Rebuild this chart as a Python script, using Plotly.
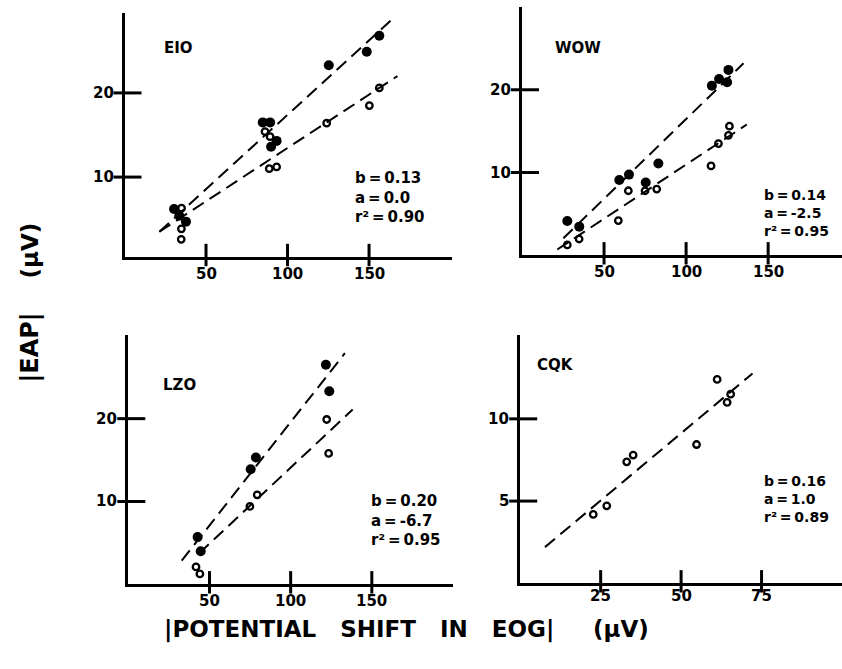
import plotly.graph_objects as go

W, H = 842, 669

# ---------------- data ----------------
eio_filled_x = [30.4, 33.6, 37.7, 84.8, 89.3, 93.3, 89.9, 125.3, 148.6, 156.3]
eio_filled_y = [6.2, 5.4, 4.7, 16.5, 16.5, 14.3, 13.6, 23.3, 24.9, 26.8]
eio_open_x = [35.0, 34.9, 34.8, 86.2, 89.3, 88.8, 93.3, 124.0, 150.2, 156.3]
eio_open_y = [6.3, 3.85, 2.6, 15.4, 14.8, 11.0, 11.2, 16.4, 18.5, 20.6]
eio_line_filled_x = [21.4, 165.0]
eio_line_filled_y = [3.5, 28.9]
eio_line_open_x = [21.4, 167.4]
eio_line_open_y = [3.5, 22.0]

wow_filled_x = [27.6, 34.9, 59.3, 65.2, 75.4, 83.1, 115.7, 120.1, 125.0, 125.8]
wow_filled_y = [4.15, 3.46, 9.1, 9.75, 8.8, 11.1, 20.5, 21.3, 20.9, 22.4]
wow_open_x = [27.6, 34.8, 58.7, 64.8, 75.0, 82.1, 115.2, 119.7, 125.8, 126.4]
wow_open_y = [1.25, 1.97, 4.2, 7.8, 7.8, 8.0, 10.8, 13.5, 14.5, 15.6]
wow_line_filled_x = [25.2, 135.0]
wow_line_filled_y = [2.05, 23.2]
wow_line_open_x = [21.5, 137.0]
wow_line_open_y = [0.7, 15.8]

lzo_filled_x = [121.7, 123.8, 78.6, 75.4, 42.7, 44.6]
lzo_filled_y = [26.5, 23.3, 15.3, 13.9, 5.7, 4.0]
lzo_open_x = [122.2, 123.4, 79.4, 74.9, 41.7, 44.1]
lzo_open_y = [19.9, 15.8, 10.8, 9.4, 2.1, 1.25]
lzo_line_filled_x = [32.9, 133.4]
lzo_line_filled_y = [2.85, 27.9]
lzo_line_open_x = [43.7, 138.2]
lzo_line_open_y = [3.75, 21.1]

cqk_open_x = [22.7, 26.9, 33.1, 35.1, 54.8, 61.2, 65.4, 64.3]
cqk_open_y = [4.19, 4.71, 7.39, 7.8, 8.44, 12.4, 11.5, 11.0]
cqk_line_x = [7.7, 72.2]
cqk_line_y = [2.2, 12.76]

panel_names = ["EIO", "WOW", "LZO", "CQK"]
panel_stats = [
    ["b\u2009=\u20090.13", "a\u2009=\u20090.0", "r²\u2009=\u20090.90"],
    ["b\u2009=\u20090.14", "a\u2009=\u2009-2.5", "r²\u2009=\u20090.95"],
    ["b\u2009=\u20090.20", "a\u2009=\u2009-6.7", "r²\u2009=\u20090.95"],
    ["b\u2009=\u20090.16", "a\u2009=\u20091.0", "r²\u2009=\u20090.89"],
]
x_ticks = [[50, 100, 150], [50, 100, 150], [50, 100, 150], [25, 50, 75]]
y_ticks = [[10, 20], [10, 20], [10, 20], [5, 10]]
x_title_main = "|POTENTIAL\u00a0\u00a0\u00a0SHIFT\u00a0\u00a0\u00a0IN\u00a0\u00a0\u00a0EOG|"
x_title_unit = "(μV)"
y_title_main = "|EAP|"
y_title_unit = "(μV)"

# ---------------- layout geometry ----------------
panels = [
    dict(px=(124.5, 451.7), py=(13, 257), xr=[0, 200.7], yr=[0.5, 29.5],
         name_pos=(23, 25.4), stat_pos=(140, 7.6), stat_size=15, xlab_off=17),
    dict(px=(522, 842), py=(7, 255.3), xr=[0, 195], yr=[0, 30],
         name_pos=(19, 25.1), stat_pos=(146.3, 5.1), stat_size=14, xlab_off=17),
    dict(px=(128.3, 453), py=(335, 584.3), xr=[0, 200], yr=[0, 30.1],
         name_pos=(20, 24.1), stat_pos=(148.4, 7.65), stat_size=15, xlab_off=17),
    dict(px=(520.2, 842), py=(335, 583.3), xr=[0, 100], yr=[0, 15.1],
         name_pos=(4.6, 13.3), stat_pos=(75, 5.1), stat_size=14, xlab_off=13),
]

FONT = "'DejaVu Sans', sans-serif"


def bfont(size):
    return dict(family=FONT, size=size, color="black", weight="bold")


fig = go.Figure()

filled_sets = [(eio_filled_x, eio_filled_y), (wow_filled_x, wow_filled_y),
               (lzo_filled_x, lzo_filled_y), None]
open_sets = [(eio_open_x, eio_open_y), (wow_open_x, wow_open_y),
             (lzo_open_x, lzo_open_y), (cqk_open_x, cqk_open_y)]
line_sets = [
    [(eio_line_filled_x, eio_line_filled_y), (eio_line_open_x, eio_line_open_y)],
    [(wow_line_filled_x, wow_line_filled_y), (wow_line_open_x, wow_line_open_y)],
    [(lzo_line_filled_x, lzo_line_filled_y), (lzo_line_open_x, lzo_line_open_y)],
    [(cqk_line_x, cqk_line_y)],
]


def ax_name(kind, n):
    return kind if n == 1 else f"{kind}{n}"


annotations = []
layout_axes = {}
for i, p in enumerate(panels):
    n = i + 1
    xa, ya = ax_name("x", n), ax_name("y", n)
    wpx = p["px"][1] - p["px"][0]
    hpx = p["py"][1] - p["py"][0]
    ux = (p["xr"][1] - p["xr"][0]) / wpx   # data units per pixel
    uy = (p["yr"][1] - p["yr"][0]) / hpx

    for lx, ly in line_sets[i]:
        fig.add_trace(go.Scatter(x=lx, y=ly, mode="lines", xaxis=xa, yaxis=ya,
                                 line=dict(color="black", width=2, dash="13px,7px"),
                                 showlegend=False, hoverinfo="skip"))
    if filled_sets[i] is not None:
        fx, fy = filled_sets[i]
        fig.add_trace(go.Scatter(x=fx, y=fy, mode="markers", xaxis=xa, yaxis=ya,
                                 marker=dict(symbol="circle", size=10, color="black"),
                                 showlegend=False))
    ox, oy = open_sets[i]
    fig.add_trace(go.Scatter(x=ox, y=oy, mode="markers", xaxis=xa, yaxis=ya,
                             marker=dict(symbol="circle-open", size=6.5,
                                         color="black", line=dict(width=2.3)),
                             showlegend=False))

    # crossing tick marks drawn as line markers sitting on the axes
    fig.add_trace(go.Scatter(
        x=x_ticks[i], y=[p["yr"][0] + 2 * uy] * len(x_ticks[i]), mode="markers",
        xaxis=xa, yaxis=ya, cliponaxis=False, showlegend=False, hoverinfo="skip",
        marker=dict(symbol="line-ns", size=16, color="black",
                    line=dict(width=3, color="black"))))
    fig.add_trace(go.Scatter(
        x=[p["xr"][0] + 3 * ux] * len(y_ticks[i]), y=y_ticks[i], mode="markers",
        xaxis=xa, yaxis=ya, cliponaxis=False, showlegend=False, hoverinfo="skip",
        marker=dict(symbol="line-ew", size=20, color="black",
                    line=dict(width=3, color="black"))))

    xd = [p["px"][0] / W, p["px"][1] / W]
    yd = [1 - p["py"][1] / H, 1 - p["py"][0] / H]
    common = dict(showgrid=False, zeroline=False, showline=True, linecolor="black",
                  linewidth=3, ticks="", showticklabels=False)
    layout_axes["xaxis" if n == 1 else f"xaxis{n}"] = dict(
        domain=xd, range=p["xr"], anchor=ya, **common)
    layout_axes["yaxis" if n == 1 else f"yaxis{n}"] = dict(
        domain=yd, range=p["yr"], anchor=xa, **common)

    # tick labels
    for tv in x_ticks[i]:
        annotations.append(dict(x=tv, y=p["yr"][0], xref=xa, yref=ya, text=str(tv),
                                showarrow=False, xanchor="center", yanchor="middle",
                                yshift=-p["xlab_off"], font=bfont(15)))
    for tv in y_ticks[i]:
        annotations.append(dict(x=p["xr"][0], y=tv, xref=xa, yref=ya, text=str(tv),
                                showarrow=False, xanchor="right", yanchor="middle",
                                xshift=-9, font=bfont(15)))

    annotations.append(dict(x=p["name_pos"][0], y=p["name_pos"][1], xref=xa, yref=ya,
                            text=panel_names[i], showarrow=False, xanchor="left",
                            yanchor="middle", font=bfont(15)))
    annotations.append(dict(x=p["stat_pos"][0], y=p["stat_pos"][1], xref=xa, yref=ya,
                            text="<br>".join(panel_stats[i]), showarrow=False,
                            xanchor="left", yanchor="middle", align="left",
                            font=bfont(p["stat_size"])))

# axis titles
annotations.append(dict(x=29 / W, y=1 - 347.5 / H, xref="paper", yref="paper",
                        text=y_title_main, textangle=-90, showarrow=False,
                        xanchor="center", yanchor="middle", font=bfont(24)))
annotations.append(dict(x=29 / W, y=1 - 250.5 / H, xref="paper", yref="paper",
                        text=y_title_unit, textangle=-90, showarrow=False,
                        xanchor="center", yanchor="middle", font=bfont(23)))
annotations.append(dict(x=162 / W, y=1 - 629 / H, xref="paper", yref="paper",
                        text=x_title_main, showarrow=False, xanchor="left",
                        yanchor="middle", font=bfont(23)))
annotations.append(dict(x=621 / W, y=1 - 629 / H, xref="paper", yref="paper",
                        text=x_title_unit, showarrow=False, xanchor="center",
                        yanchor="middle", font=bfont(23)))

fig.update_layout(width=W, height=H, margin=dict(l=0, r=0, t=0, b=0),
                  paper_bgcolor="white", plot_bgcolor="white",
                  annotations=annotations, showlegend=False, **layout_axes)

fig.write_html("out.html")
